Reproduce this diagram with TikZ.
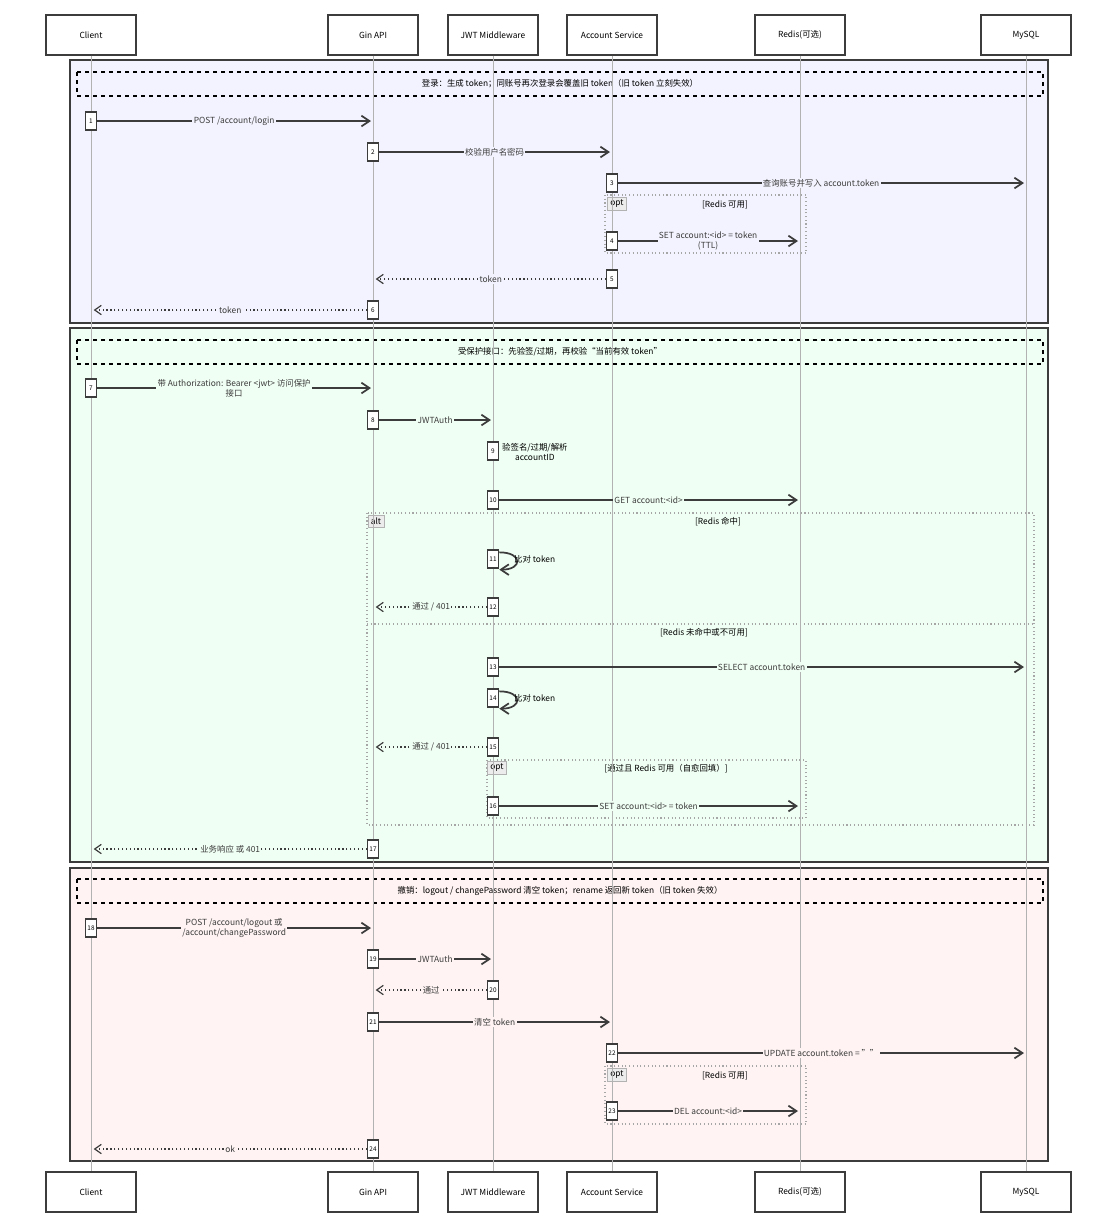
\documentclass[tikz,border=0pt]{standalone}
\usepackage{fontspec}
\setmainfont{Noto Sans CJK SC}
\usetikzlibrary{arrows.meta}
\definecolor{blue1}{RGB}{243, 243, 255}
\definecolor{green1}{RGB}{240, 255, 244}
\definecolor{red1}{RGB}{255, 243, 243}
\definecolor{line1}{RGB}{60, 60, 60}
\begin{document}
\begin{tikzpicture}[x=0.75pt, y=-0.75pt, font=\fontsize{6.3}{7.5}\selectfont,
  actor/.style={draw=line1, line width=0.9pt, fill=white, minimum width=67.5pt, minimum height=30pt},
  act/.style={draw=line1, line width=0.9pt, fill=white, minimum width=8.5pt, minimum height=13.5pt, inner sep=0pt, font=\fontsize{4.8}{5}\selectfont},
  msg/.style={line1, line width=1.3pt, -{Straight Barb[length=6pt, width=8pt]}},
  ret/.style={line1, line width=0.9pt, dotted, -{Straight Barb[length=5pt, width=7pt]}},
  lbl/.style={inner sep=1pt, align=center},
  frame/.style={draw=gray!70, dotted, line width=0.8pt}]
  \useasboundingbox (0,0) rectangle (1102,1229);

  % sections
  \draw[line1, line width=0.9pt, fill=blue1] (70,60) rectangle (1048,323);
  \draw[line1, line width=0.9pt, fill=green1] (70,328) rectangle (1048,862);
  \draw[line1, line width=0.9pt, fill=red1] (70,868) rectangle (1048,1161);
  \draw[dashed, line width=0.9pt] (77,72) rectangle node (note1) {登录：生成 token；同账号再次登录会覆盖旧 token（旧 token 立刻失效）} (1043,96);
  \draw[dashed, line width=0.9pt] (77,340) rectangle node (note2) {受保护接口：先验签/过期，再校验“当前有效 token”} (1043,364);
  \draw[dashed, line width=0.9pt] (77,879) rectangle node (note3) {撤销：logout / changePassword 清空 token；rename 返回新 token（旧 token 失效）} (1043,903);

  % frames
  \draw[frame] (605,195) rectangle (806,253);
  \node[draw=gray!60, fill=gray!15, inner sep=2pt] (opt1) at (617,204) {opt};
  \node (g1) at (725,205) {[Redis 可用]};
  \draw[frame] (367,513) rectangle (1034,825);
  \draw[frame] (367,624) -- (1034,624);
  \node[draw=gray!60, fill=gray!15, inner sep=2pt] (alt1) at (376,521) {alt};
  \node (g2) at (718,522) {[Redis 命中]};
  \node (g3) at (704,633) {[Redis 未命中或不可用]};
  \draw[frame] (487,760) rectangle (806,818);
  \node[draw=gray!60, fill=gray!15, inner sep=2pt] (opt2) at (497,768) {opt};
  \node (g4) at (666,769) {[通过且 Redis 可用（自愈回填）]};
  \draw[frame] (605,1066) rectangle (806,1124);
  \node[draw=gray!60, fill=gray!15, inner sep=2pt] (opt3) at (617,1075) {opt};
  \node (g5) at (725,1076) {[Redis 可用]};

  % participants and lifelines
  \foreach \name/\x/\txt in {C/91/Client, G/373/Gin API, J/493/JWT Middleware, A/612/Account Service, R/800/Redis(可选), M/1026/MySQL} {
    \node[actor] (\name top) at (\x,35) {\txt};
    \node[actor] (\name bot) at (\x,1192) {\txt};
    \draw[gray!60, line width=0.6pt] (\name top) -- (\name bot);
    \coordinate (\name) at (\x,0);
  }

  % messages
  \foreach \n/\y/\f/\t/\bg/\txt in {1/121/C/G/blue1/{POST /account/login}, 2/152/G/A/blue1/校验用户名密码,
      3/183/A/M/blue1/查询账号并写入 account.token, 4/241/A/R/blue1/{SET account:<id> = token\\(TTL)},
      7/388/C/G/green1/{带 Authorization: Bearer <jwt> 访问保护\\接口}, 8/420/G/J/green1/JWTAuth,
      10/500/J/R/green1/{GET account:<id>}, 13/667/J/M/green1/SELECT account.token,
      16/806/J/R/green1/{SET account:<id> = token}, 18/928/C/G/red1/{POST /account/logout 或\\/account/changePassword},
      19/959/G/J/red1/JWTAuth, 21/1022/G/A/red1/清空 token, 22/1053/A/M/red1/{UPDATE account.token = \char"22\char"22},
      23/1111/A/R/red1/{DEL account:<id>}} {
    \node[act] (a\n) at (\f |- 0,\y) {\n};
    \coordinate (e\n) at ([xshift=-1.5]\t |- 0,\y);
    \draw[msg] (a\n) -- node[lbl, fill=\bg] {\txt} (e\n);
  }

  % returns
  \foreach \n/\y/\f/\t/\bg/\txt in {5/279/A/G/blue1/token, 6/310/G/C/blue1/token, 12/607/J/G/green1/{通过 / 401},
      15/747/J/G/green1/{通过 / 401}, 17/849/G/C/green1/业务响应 或 401, 20/990/J/G/red1/通过, 24/1149/G/C/red1/ok} {
    \node[act] (a\n) at (\f |- 0,\y) {\n};
    \coordinate (e\n) at ([xshift=2]\t |- 0,\y);
    \draw[ret] (a\n) -- node[lbl, fill=\bg] {\txt} (e\n);
  }

  % self calls
  \node[act] (a9) at (J |- 0,451) {9};
  \node[lbl, anchor=north west] (t9) at ([xshift=1pt]a9.north east) {验签名/过期/解析\\accountID};
  \foreach \n/\y in {11/559, 14/698} {
    \node[act] (a\n) at (J |- 0,\y) {\n};
    \coordinate (s\n) at ([yshift=-8]a\n.east);
    \draw[msg] ([yshift=5]a\n.east) to[out=0, in=0, looseness=3.5] (s\n);
    \node[lbl, anchor=west] (t\n) at ([xshift=10pt]a\n.east) {比对 token};
  }
\end{tikzpicture}
\end{document}
